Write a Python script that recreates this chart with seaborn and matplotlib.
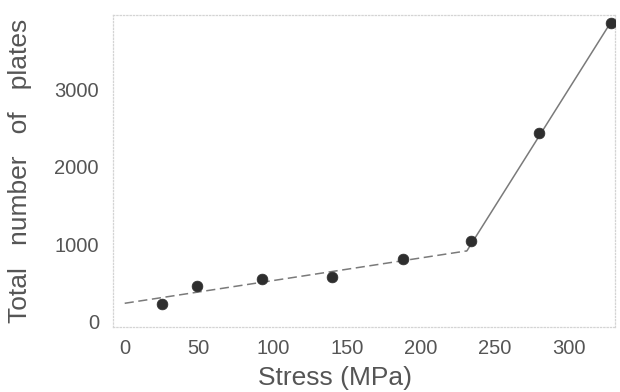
import matplotlib
matplotlib.use("Agg")
import matplotlib.pyplot as plt
import seaborn as sns
import pandas as pd

# Measured points
stress = [25, 49, 93, 140, 188, 234, 280, 328]
plates = [232, 465, 555, 580, 810, 1045, 2440, 3860]

# Two linear regimes (fitted lines)
low_fit_x = [0, 231]
low_fit_y = [240, 916]
high_fit_x = [231, 328]
high_fit_y = [916, 3860]

x_ticks = [0, 50, 100, 150, 200, 250, 300]
y_ticks = [0, 1000, 2000, 3000]

sns.set_theme(style="white")
plt.rcParams["font.family"] = ["Liberation Sans", "DejaVu Sans"]

df = pd.DataFrame({"stress": stress, "plates": plates})

fig = plt.figure(figsize=(6.2, 3.92), dpi=100)
ax = fig.add_axes([0.182, 0.166, 0.81, 0.796])

ax.plot(low_fit_x, low_fit_y, color="#7a7a7a", lw=1.1, ls=(0, (6, 3)))
ax.plot(high_fit_x, high_fit_y, color="#7a7a7a", lw=1.1)
sns.scatterplot(data=df, x="stress", y="plates", ax=ax, s=60,
                color="#2e2e2e", edgecolor="#2e2e2e", linewidth=0.5, zorder=3)

ax.set_xlim(-8, 331)
ax.set_ylim(-65, 3960)
ax.set_xticks(x_ticks)
ax.set_yticks(y_ticks)

for sp in ax.spines.values():
    sp.set_visible(True)
    sp.set_color("#d4d4d4")
    sp.set_linestyle(":")
    sp.set_linewidth(0.9)

ax.tick_params(axis="both", labelsize=14.5, labelcolor="#555555",
               length=2, width=0.6, color="#d8d8d8", direction="in")
ax.tick_params(axis="x", pad=9)
ax.tick_params(axis="y", pad=10)

ax.set_xlabel("Stress (MPa)", fontsize=19, color="#555555")
ax.xaxis.set_label_coords(0.442, -0.125)
ax.set_ylabel("Total   number   of   plates", fontsize=19, color="#555555")
ax.yaxis.set_label_coords(-0.16, 0.5)

fig.savefig("out.png", dpi=100)
